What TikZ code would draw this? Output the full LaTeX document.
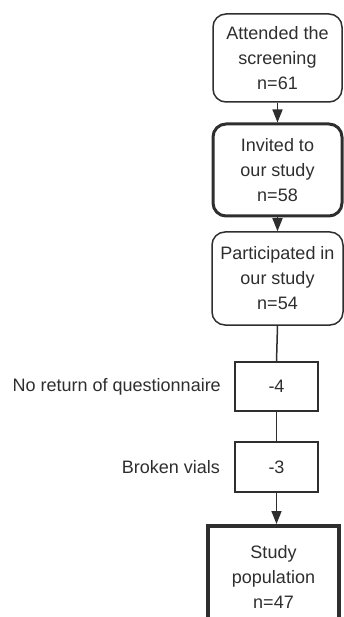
\documentclass[tikz,border=0pt]{standalone}
\usepackage{fontspec}
\setmainfont{Liberation Sans}
\usetikzlibrary{arrows.meta}
\definecolor{ink}{HTML}{2E2E2E}
\tikzset{
  x=1pt,y=1pt,
  every node/.style={text=ink,font=\fontsize{18}{25}\selectfont,align=center,inner sep=0pt},
  roundbox/.style={draw=ink,rounded corners=13pt,line width=1.5pt,minimum width=129pt},
  plainbox/.style={draw=ink,line width=1.3pt,minimum width=83pt,minimum height=49pt},
  conn/.style={draw=ink,line width=1.5pt},
  arr/.style={conn,-{Triangle[length=13pt,width=10pt]}},
}
\begin{document}
\begin{tikzpicture}
\useasboundingbox (0,0) rectangle (344,-617);
\clip (0,0) rectangle (344,-617);
\node[roundbox,minimum height=88pt] (b1) at (277.5,-58) {Attended the\\screening\\n=61};
\node[roundbox,line width=3pt,minimum height=92pt] (b2) at (277.5,-170) {Invited to\\our study\\n=58};
\node[roundbox,minimum width=131pt,minimum height=93pt] (b3) at (277.5,-278.5) {Participated in\\our study\\n=54};
\node[plainbox] (b4) at (276.5,-386.5) {-4};
\node[plainbox,minimum height=50pt] (b5) at (276.5,-467) {-3};
\node[draw=ink,line width=4pt,minimum width=131pt,minimum height=102pt] (b6) at (273.5,-577) {Study\\population\\n=47};
\node[anchor=east] (l4) at (221,-387) {No return of questionnaire};
\node[anchor=east] (l5) at (220,-467) {Broken vials};
\draw[arr] (b1.south) -- (b2.north);
\draw[arr] (b2.south) -- (b3.north);
\draw[conn] (b3.south) -- (b4.north);
\draw[conn] (b4.south) -- (b5.north);
\draw[arr] (b5.south) -- (b5.south |- b6.north);
\end{tikzpicture}
\end{document}
